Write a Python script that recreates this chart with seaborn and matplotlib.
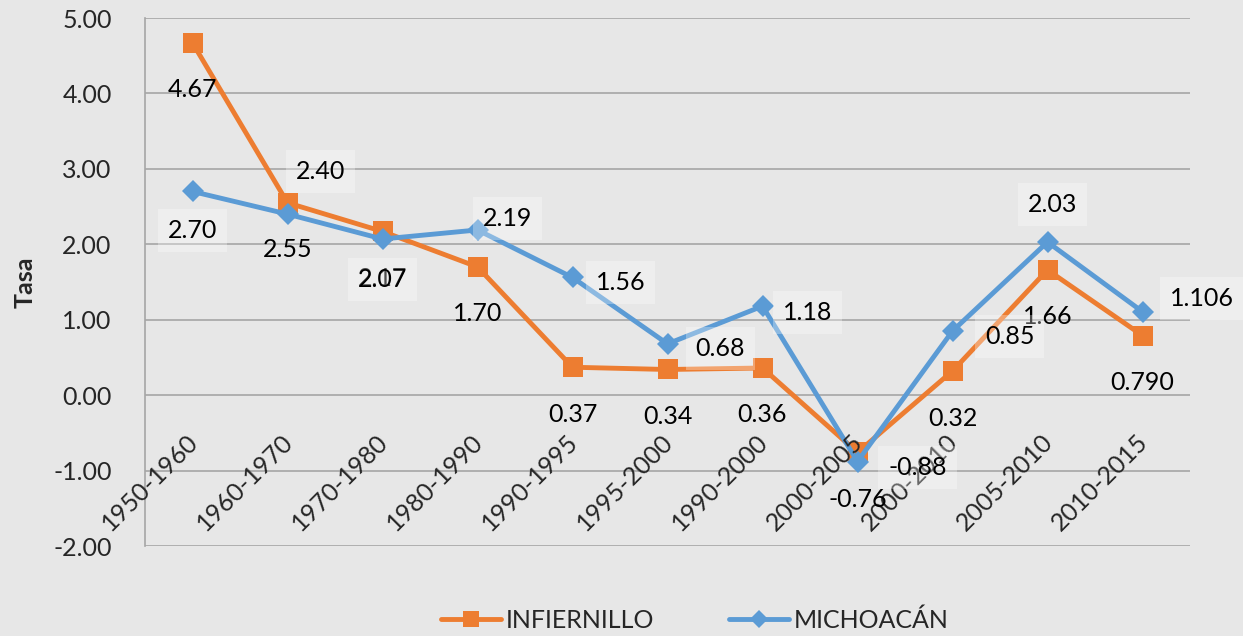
import numpy as np
import pandas as pd
import seaborn as sns
import matplotlib.pyplot as plt

periods = ["1950-1960", "1960-1970", "1970-1980", "1980-1990", "1990-1995",
           "1995-2000", "1990-2000", "2000-2005", "2000-2010", "2005-2010", "2010-2015"]
infiernillo = [4.67, 2.55, 2.17, 1.70, 0.37, 0.34, 0.36, -0.76, 0.32, 1.66, 0.790]
michoacan = [2.70, 2.40, 2.07, 2.19, 1.56, 0.68, 1.18, -0.88, 0.85, 2.03, 1.106]
inf_labels = ["4.67", "2.55", "2.17", "1.70", "0.37", "0.34", "0.36", "-0.76", "0.32", "1.66", "0.790"]
mich_labels = ["2.70", "2.40", "2.07", "2.19", "1.56", "0.68", "1.18", "-0.88", "0.85", "2.03", "1.106"]
yticks = [-2, -1, 0, 1, 2, 3, 4, 5]

# label offsets in pixels (dx, dy)
mich_offsets = [(0, -39), (33, 43), (0, -40), (30, 11), (48, -5), (53, -5),
                (45, -6), (60, -6), (57, -5), (5, 38), (59, 13)]

ORANGE = "#ED7D31"
BLUE = "#5B9BD5"
BG = "#E7E7E7"
FS = 18

sns.set_style("white")
plt.rcParams["font.family"] = ["Lato", "DejaVu Sans"]

x = np.arange(len(periods))
df = pd.DataFrame({
    "x": np.concatenate([x, x]),
    "Tasa": infiernillo + michoacan,
    "serie": ["INFIERNILLO"] * len(x) + ["MICHOACÁN"] * len(x),
})

fig = plt.figure(figsize=(12.43, 6.36), dpi=100, facecolor=BG)
ax = fig.add_axes([145 / 1243, 1 - 546 / 636, 1045 / 1243, 528 / 636])
ax.set_facecolor(BG)

sns.lineplot(data=df, x="x", y="Tasa", hue="serie", style="serie",
             palette={"INFIERNILLO": ORANGE, "MICHOACÁN": BLUE},
             markers={"INFIERNILLO": "s", "MICHOACÁN": "D"}, dashes=False,
             linewidth=3.5, markersize=14, markeredgewidth=0, ax=ax, legend=True)
for ln in ax.lines:
    if ln.get_marker() == "D":
        ln.set_markersize(11)

ax.set_xlim(-0.5, len(periods) - 0.5)
ax.set_ylim(-2, 5)
ax.set_yticks(yticks)
ax.set_yticklabels([f"{v:.2f}" for v in yticks])
ax.grid(axis="y", color="#A6A6A6", linewidth=1.2)
ax.set_axisbelow(True)
for s in ["top", "right", "bottom"]:
    ax.spines[s].set_visible(False)
ax.spines["left"].set_color("#A6A6A6")
ax.spines["left"].set_linewidth(1.2)

ax.tick_params(axis="y", length=0, pad=24, labelsize=FS)
ax.set_xticks([])
for xi, lab in zip(x, periods):
    ax.annotate(lab, (xi, 0), xytext=(2, -43), textcoords="offset pixels",
                rotation=45, ha="right", va="center", rotation_mode="anchor", fontsize=FS)

ax.set_xlabel("")
ax.set_ylabel("Tasa", fontsize=FS, fontweight="bold", labelpad=12)

for xi, v, lab in zip(x, infiernillo, inf_labels):
    ax.annotate(lab, (xi, v), xytext=(0, -47), textcoords="offset pixels",
                ha="center", va="center", fontsize=FS, color="black")
for xi, v, lab, (dx, dy) in zip(x, michoacan, mich_labels, mich_offsets):
    ax.annotate(lab, (xi, v), xytext=(dx, dy), textcoords="offset pixels",
                ha="center", va="center", fontsize=FS, color="black",
                bbox=dict(boxstyle="square,pad=0.4", fc="white", ec="none", alpha=0.3))

handles, labels = ax.get_legend_handles_labels()
for h in handles:
    if h.get_marker() == "D":
        h.set_markersize(11)
ax.get_legend().remove()
fig.legend(handles, labels, loc="center", bbox_to_anchor=(695 / 1243, 1 - 620 / 636),
           ncol=2, frameon=False, fontsize=FS, handlelength=2.4, handletextpad=0.2,
           columnspacing=3.0, markerscale=0.8)

fig.savefig("out.png", dpi=100, facecolor=BG)
